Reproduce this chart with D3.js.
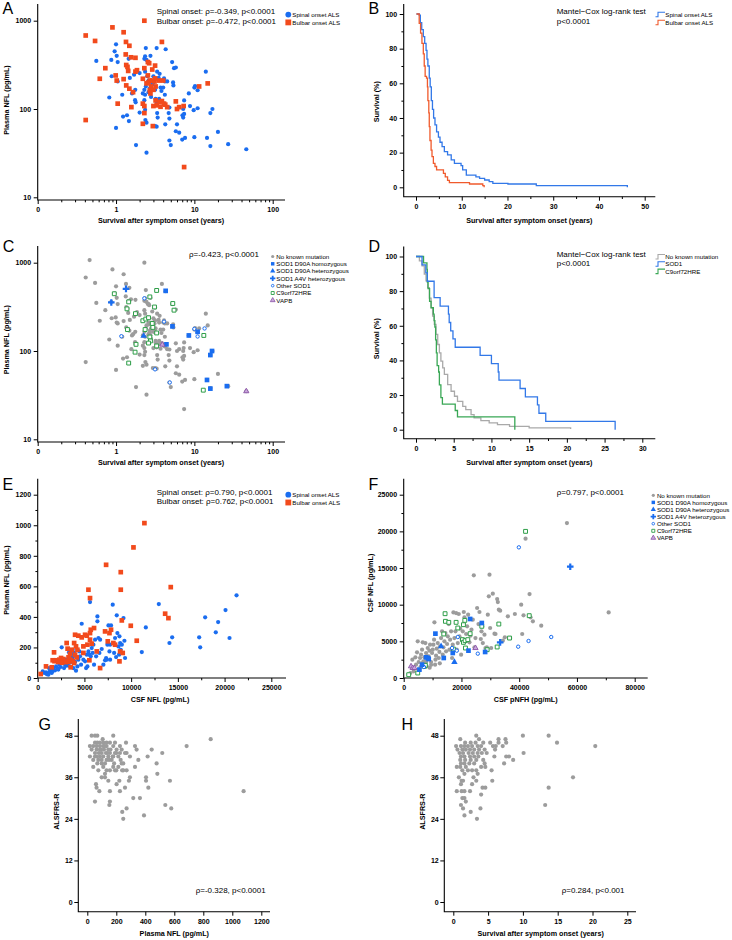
<!DOCTYPE html>
<html><head><meta charset="utf-8">
<script src="https://cdn.jsdelivr.net/npm/d3@7"></script>
<style>body{margin:0;background:#fff}</style>
</head><body>
<script>
// ---------------- DATA ----------------
// Panel A/C: [survival after onset (years), plasma NFL (pg/mL)]
const spinalA = [[0.56,350],[0.87,360],[0.88,235],[0.82,135],[0.96,450],[1.0,540],[1.02,400],[1.05,340],[1.05,205],[1.0,61],[1.2,145],[1.23,82],[1.38,85],[1.46,73],[1.45,370],[1.5,225],[1.7,245],[1.76,165],[1.75,126],[1.78,119],[1.8,39],[2.0,255],[2.0,91],[2.3,370],[2.35,395],[2.35,265],[2.4,490],[2.45,360],[2.4,180],[2.3,165],[2.35,145],[2.3,126],[2.35,98],[2.37,75],[2.45,70],[2.45,32],[2.6,340],[2.75,400],[2.6,210],[2.7,170],[2.8,137],[2.9,190],[3.0,235],[3.15,165],[3.2,130],[3.3,120],[3.35,90],[3.3,490],[3.35,265],[3.5,225],[3.6,250],[3.7,175],[3.55,130],[3.3,63],[3.15,64],[3.4,80],[4.0,175],[4.1,222],[4.2,145],[4.3,475],[4.2,205],[4.1,115],[4.25,67],[4.5,205],[4.7,90],[4.8,78],[4.8,44],[5.0,39],[5.2,340],[5.35,200],[5.5,290],[5.8,295],[5.4,185],[5.8,56],[6.4,54],[6.0,67],[7.0,45],[7.05,85],[7.4,125],[7.2,100],[7.4,88],[7.2,80],[7.6,47],[8.5,150],[8.8,108],[10,48],[10,175],[10.2,182],[9.8,97],[11,163],[11,102],[14.5,47],[14,265],[16,38],[16,90],[17,100],[20,55],[27,40],[46,35],[4.8,104],[2.5,235],[2.2,150],[2.6,155],[3.0,200],[3.8,160],[1.6,150]];
const bulbarA = [[0.41,680],[0.41,75],[0.54,590],[0.62,220],[0.73,290],[0.9,840],[0.99,240],[1.02,210],[1.05,115],[1.25,740],[1.34,575],[1.33,415],[1.35,315],[1.4,300],[1.43,270],[1.25,218],[1.35,185],[1.48,520],[1.48,170],[1.55,385],[1.65,155],[1.57,105],[1.77,380],[1.77,265],[1.85,275],[2.2,220],[2.2,115],[2.3,108],[2.3,90],[2.2,68],[2.3,290],[2.45,195],[2.55,340],[2.65,330],[2.6,200],[2.55,240],[2.7,162],[2.7,210],[2.75,150],[2.8,180],[2.9,280],[2.9,210],[2.95,64],[3.0,108],[3.0,165],[3.1,205],[3.15,310],[3.15,222],[3.2,180],[3.2,125],[3.3,110],[3.55,210],[3.6,120],[3.7,106],[3.85,575],[4.0,210],[3.85,123],[4.1,115],[4.25,112],[4.5,105],[5.8,122],[6.0,100],[6.4,105],[7.3,108],[7.4,22],[11.5,180],[14.8,195],[2.3,1000]];
// Panel C: extra non-carrier point and mutation carriers: [survival, plasma NFL]
const extraC = [[0.46,1070]];
const sod1HomC = [[4.3,480],[5.25,190],[8.5,150],[11,165],[16.8,100],[16,90],[14.5,47],[16,37.5],[26,40],[4.4,119]];
const sod1HetC = [[2.25,148]];
const a4vC = [[1.34,505],[0.87,355]];
const otherSod1C = [[2.3,395],[1.17,147],[4.1,215],[10,178],[13.5,180],[11,146],[3.15,62],[4.85,44]];
const c9C = [[0.95,445],[1.45,360],[1.38,300],[1.77,265],[2.7,410],[3.3,485],[3.1,315],[2.2,220],[2.4,230],[2.6,238],[2.9,205],[2.95,185],[3.3,160],[2.7,144],[2.75,130],[2.6,123],[3.3,114],[5.3,345],[5.5,290],[13.2,150],[13,36],[1.4,175],[1.8,119],[1.75,97],[1.45,73],[2.35,175]];
const vapbC = [[3.9,118],[46,35]];

// Panel B Kaplan–Meier: time (years), survival (%)
const kmSpinalT = [0.1,0.7,0.95,1.25,1.6,1.9,2.2,2.4,2.6,2.9,3.1,3.35,3.6,3.85,4.15,4.5,4.9,5.25,5.7,6.2,6.9,7.7,8.4,9.85,10.2,11,13.1,13.9,15,16,16.8,20.1,26.3,46.2];
const kmSpinalS = [100,99.4,95,91,87,83,79,74,70,63,58,50,45,40,36,32,29,26,23.5,20.6,18.7,15.8,13.8,12.5,10,7,6,5.2,4.2,3.3,2.3,1.9,1,0];
const kmBulbarT = [0.1,0.7,1.0,1.3,1.6,1.8,2.0,2.3,2.5,2.6,2.8,2.9,3.05,3.3,3.5,3.8,4.15,4.5,6.0,6.4,6.9,7.3,11.7,14.6,14.9];
const kmBulbarS = [100,94.6,89,83,77,70,64,63,58,50,43,35,27,21.5,17.7,13.8,12,10,8,6,4,2.7,1.9,1,0];
// Panel D Kaplan–Meier
const kmNoMutT = [0,0.45,0.8,1.1,1.33,1.55,1.77,2.0,2.2,2.43,2.65,2.88,3.1,3.3,3.54,3.76,4.2,4.65,5.1,5.5,6.2,6.6,7.3,7.7,8.6,9.7,10.8,12.4,15,20.5];
const kmNoMutS = [100,97.5,94.6,89.8,86,82,76,70.5,65.6,60.8,55,49.2,44.4,39.6,35.7,31.9,26,22.2,19.3,16.4,13.5,11.6,8.7,6.8,5.2,3.9,2.9,1.9,1,0.4];
const kmSod1T = [0,0.8,1.3,1.5,2.4,3.2,4.3,4.4,4.6,4.9,5.2,8.5,10.0,10.9,11.0,13.8,14.5,16.1,16.3,17.2,26.4];
const kmSod1S = [100,95.2,90.5,85.7,76.2,71.4,66.7,61.9,57.1,52.4,47.6,42.9,38.1,33.3,28.6,23.8,19.0,14.3,9.5,4.8,0];
const kmC9T = [0,1.0,1.45,1.5,1.6,1.8,2.0,2.3,2.4,2.5,2.6,2.7,2.8,3.0,3.1,3.3,3.5,5.2,5.5,13.1];
const kmC9S = [100,96.3,92.6,85.2,81.5,74.1,70.4,66.7,63.0,59.3,51.9,44.4,37.0,33.3,25.9,18.5,14.8,11.1,7.4,0];

// Panel E: [CSF NFL, plasma NFL]
const spinalE = [[540,44],[710,33],[890,37],[960,26],[1140,22],[1250,39],[1320,55],[1210,65],[1500,33],[1600,44],[1680,61],[1860,50],[1960,76],[2100,65],[2210,55],[2320,87],[2460,72],[2570,201],[2680,98],[2820,65],[2930,87],[3030,120],[3100,81],[3280,98],[3350,168],[3460,76],[3570,153],[3640,105],[3750,135],[3750,185],[3820,65],[3890,164],[4000,105],[4100,48],[4250,76],[4350,120],[4460,174],[4530,142],[4640,87],[4710,355],[4820,164],[4890,120],[5070,109],[5180,65],[5250,153],[5320,76],[5430,174],[5530,153],[5600,497],[5680,142],[5780,196],[5890,164],[5960,218],[6030,87],[6140,251],[6250,142],[6390,403],[6390,371],[6500,262],[6600,164],[6680,251],[6850,190],[7030,87],[7210,116],[7320,131],[7390,120],[7460,218],[7570,344],[7680,174],[7750,218],[7750,120],[7850,344],[8030,480],[8280,262],[8390,137],[8460,410],[8530,294],[8640,207],[8750,273],[8820,229],[8890,185],[9000,218],[9180,392],[9280,244],[9350,131],[8710,153],[8180,164],[11140,170],[11570,331],[12960,484],[14100,229],[14390,266],[17280,266],[17390,201],[17920,397],[19060,299],[19310,366],[20100,445],[20530,262],[21280,541]];
const bulbarE = [[320,26],[890,76],[1500,70],[1750,168],[1600,116],[2030,116],[2320,120],[2500,131],[2680,113],[2750,124],[2930,109],[3100,229],[3200,192],[3300,135],[3460,157],[3640,185],[3460,120],[3750,109],[3900,229],[4000,283],[4100,207],[4250,185],[4180,135],[4350,277],[3530,70],[3570,118],[4000,153],[4710,266],[4890,207],[4890,164],[5070,283],[5250,277],[5320,218],[5430,578],[5600,523],[5600,294],[5680,316],[5600,251],[5530,116],[5780,225],[6030,327],[6320,174],[6680,65],[7210,305],[7320,741],[7500,240],[7680,294],[7850,316],[8100,229],[8280,218],[8750,109],[8820,174],[8890,693],[8890,578],[9000,377],[9100,164],[9960,342],[10250,855],[10600,244],[11420,1014],[13640,421],[13990,392],[14240,595],[1800,110],[2200,105],[2600,100],[3000,104],[3300,106],[3900,98]];

// Panel F: [CSF pNFH, CSF NFL]
const noMutF = [[1730,455],[2310,680],[3120,1360],[3470,910],[4050,2820],[4280,1820],[4620,3500],[4860,5000],[5200,2180],[5430,1140],[5660,2730],[6010,3180],[6360,3860],[6590,4860],[6820,2270],[7170,2820],[7510,4770],[7750,3410],[7980,1590],[8320,4090],[8670,2950],[8900,3730],[9130,4550],[9480,2180],[9830,3410],[10060,3860],[10290,4550],[10520,5230],[10640,7590],[10870,1820],[11210,3050],[11440,4000],[11790,4770],[12140,2730],[12370,3550],[12600,4320],[12950,5450],[13290,6360],[13520,3180],[13760,4180],[14100,5000],[14450,6140],[14680,3640],[15030,4640],[15260,5680],[15610,7360],[15840,3860],[16070,5230],[16420,6360],[16760,2730],[16990,4550],[17220,8950],[17570,5450],[17920,6360],[18150,8860],[18380,3860],[18730,4770],[19070,8730],[19300,5680],[19540,6730],[19880,3180],[20110,5230],[20460,6360],[20810,9000],[21040,8270],[21390,5090],[21620,6000],[21960,7050],[22310,8640],[22770,4860],[23120,5770],[23470,6590],[23930,7950],[24280,14000],[24510,4180],[24850,5450],[25430,9550],[25900,7360],[26240,9000],[26700,5320],[26940,6360],[27170,7050],[27400,4770],[27970,5910],[28320,4090],[28780,4180],[29130,8640],[29480,11140],[29710,14090],[29940,6820],[30290,4090],[30860,11500],[31440,6050],[31790,6000],[32370,10770],[32600,10360],[32940,9320],[33410,9180],[34330,5090],[35030,5550],[36070,8410],[36880,5450],[38500,8730],[40690,10000],[41040,6000],[41500,8550],[42200,19000],[43580,11450],[43930,8270],[44740,7730],[47630,7140],[56530,21130],[70980,8950],[3000,2500],[5800,1500],[6500,2000],[7800,2200],[9000,1400],[9500,1800],[11000,2500],[12500,2000],[8000,3000]];
const sod1HomF = [[10980,6050],[13870,2730],[8320,2730],[7750,2820],[8670,2590],[6360,1820],[5430,1140],[16990,3410],[22430,3730],[23000,8050],[27050,7500],[28200,3550]];
const sod1HetF = [[12950,4320],[17570,2180]];
const a4vF = [[33410,4860],[57680,15180]];
const otherSod1F = [[39880,17820],[18730,5590],[18380,3730],[16760,4090],[25660,3320],[39650,4270],[43240,5050],[51090,5590],[7000,1500]];
const c9F = [[42200,20000],[14330,8770],[14450,7730],[15610,7590],[18150,7590],[18730,6820],[13870,6000],[20690,7270],[21160,7860],[20350,5230],[20690,4860],[21270,5090],[22200,5230],[23000,6050],[21390,4090],[17220,3950],[27050,7050],[28900,3860],[32940,7360],[32370,4230],[36650,5450],[43470,8500],[4860,680],[1730,450],[7170,1590],[7510,1730]];
const vapbF = [[2540,1590],[3120,1360],[3700,1360],[24850,4090]];

// Panel G: [plasma NFL, ALSFRS-R]
const dataG = [[30,48],[53,48],[69,48],[179,48],[106,47],[851,47],[53,46],[69,46],[87,46],[110,46],[133,46],[156,46],[191,46],[267,46],[18,45],[41,45],[64,45],[87,45],[110,45],[133,45],[179,45],[225,45],[329,45],[685,45],[30,44],[64,44],[87,44],[115,44],[145,44],[202,44],[237,44],[340,44],[444,44],[53,43],[80,43],[99,43],[129,43],[156,43],[191,43],[225,43],[271,43],[517,43],[18,42],[53,42],[87,42],[110,42],[145,42],[179,42],[214,42],[294,42],[416,42],[41,41],[76,41],[99,41],[133,41],[168,41],[352,41],[69,40],[99,40],[122,40],[237,40],[248,40],[478,40],[41,39],[110,39],[179,39],[214,39],[329,39],[76,38],[133,38],[156,38],[191,38],[248,38],[271,38],[122,37],[483,37],[99,36],[122,36],[294,36],[405,36],[145,35],[221,35],[287,35],[405,35],[570,35],[60,34],[202,34],[64,33],[260,33],[421,33],[83,32],[156,32],[225,32],[1078,32],[317,30],[363,30],[53,29],[156,29],[152,28],[538,28],[271,27],[579,27],[241,26],[391,25],[248,24],[120,45],[140,43],[160,44],[175,42],[200,43],[95,44],[65,42],[150,41],[185,40],[230,41],[260,43],[200,38],[240,38]];
// Panel H: [survival after onset, ALSFRS-R]
const dataH = [[3.3,48],[10.0,48],[13.7,48],[1.0,47],[3.7,47],[6.5,47],[7.5,47],[1.7,46],[2.5,46],[3.2,46],[4.3,46],[5.3,46],[6.5,46],[7.6,46],[14.9,46],[0.4,45],[1.1,45],[1.6,45],[2.1,45],[2.7,45],[3.5,45],[4.0,45],[5.7,45],[6.1,45],[7.1,45],[20.4,45],[0.6,44],[1.3,44],[1.8,44],[2.4,44],[3.0,44],[3.7,44],[4.5,44],[6.0,44],[0.9,43],[1.4,43],[2.2,43],[2.8,43],[3.5,43],[4.1,43],[4.8,43],[10.1,43],[1.1,42],[1.6,42],[2.4,42],[3.0,42],[3.6,42],[5.9,42],[7.6,42],[8.0,42],[1.0,41],[1.7,41],[2.5,41],[3.3,41],[4.3,41],[8.6,41],[1.1,40],[1.6,40],[2.3,40],[3.0,40],[4.5,40],[7.3,40],[0.5,39],[1.0,39],[1.8,39],[4.0,39],[4.6,39],[1.3,38],[2.1,38],[2.7,38],[3.3,38],[5.5,38],[1.6,37],[3.5,37],[0.8,36],[2.9,36],[17.2,36],[1.2,35],[1.4,35],[3.3,35],[5.6,35],[1.1,34],[2.7,34],[4.2,33],[4.6,33],[13.7,33],[0.5,32],[1.2,32],[1.6,32],[2.4,32],[4.0,31],[1.3,30],[1.6,30],[1.8,29],[1.1,28],[13.2,28],[1.4,27],[3.9,27],[2.5,26],[1.6,25],[3.4,24]];

// Tick labels
const logTicks = [0.1,1,10,100];
const logMinor = [0.2,0.3,0.4,0.5,0.6,0.7,0.8,0.9,2,3,4,5,6,7,8,9,20,30,40,50,60,70,80,90];
const nflLogTicks = [10,100,1000];
const survTicks = [0,20,40,60,80,100];
const survMinor = [10,30,50,70,90];
const mutationLabels = ["No known mutation","SOD1 D90A homozygous","SOD1 D90A heterozygous","SOD1 A4V heterozygous","Other SOD1","C9orf72HRE","VAPB"];

// ---------------- STYLE ----------------
const FONT = "'Liberation Sans', Arial, Helvetica, sans-serif";
const BLUE = "#1a6df0", RED = "#f24a1c", GRAY = "#9c9c9c", GREEN = "#2e9e48", PURPLE = "#8a55a6";
const KBLUE = "#3278e8", KRED = "#f05a2c", KGRAY = "#a9a9a9", KGREEN = "#39a755";

const svg = d3.select("body").append("svg").attr("width",732).attr("height",940)
  .style("font-family",FONT);

function axes(c){
  const g = svg.append("g");
  g.append("path").attr("d",`M${c.ax},${c.top}V${c.ay}H${c.right}`)
    .attr("fill","none").attr("stroke","#000").attr("stroke-width",1.1);
  const fmtX = c.xFmt || d3.format("d"), fmtY = c.yFmt || d3.format("d");
  const xa = g.append("g").attr("transform",`translate(0,${c.ay})`)
    .call(d3.axisBottom(c.x).tickValues(c.xTicks).tickFormat(fmtX).tickSize(4).tickPadding(3.5));
  const ya = g.append("g").attr("transform",`translate(${c.ax},0)`)
    .call(d3.axisLeft(c.y).tickValues(c.yTicks).tickFormat(fmtY).tickSize(4).tickPadding(c.yPad||2.6));
  [xa,ya].forEach(a=>{
    a.select(".domain").remove();
    a.attr("font-family",FONT).attr("font-size",7).attr("font-weight","bold");
    a.selectAll(".tick line").attr("stroke","#000").attr("stroke-width",1);
    a.selectAll("text").attr("fill","#000");
  });
  if(c.xMinor){
    const m = g.append("g").attr("transform",`translate(0,${c.ay})`)
      .call(d3.axisBottom(c.x).tickValues(c.xMinor).tickFormat("").tickSize(2.3));
    m.select(".domain").remove(); m.selectAll(".tick line").attr("stroke","#000");
  }
  if(c.yMinor){
    const m = g.append("g").attr("transform",`translate(${c.ax},0)`)
      .call(d3.axisLeft(c.y).tickValues(c.yMinor).tickFormat("").tickSize(2.3));
    m.select(".domain").remove(); m.selectAll(".tick line").attr("stroke","#000");
  }
  g.append("text").attr("x",c.xtX).attr("y",c.xtY).attr("text-anchor","middle")
    .attr("font-size",7.2).attr("font-weight","bold").text(c.xTitle);
  g.append("text").attr("transform",`translate(${c.ytX},${c.ytY}) rotate(-90)`).attr("text-anchor","middle")
    .attr("font-size",7.2).attr("font-weight","bold").text(c.yTitle);
  g.append("text").attr("x",c.lx).attr("y",c.ly).attr("font-size",16).text(c.letter);
  return g;
}

function sym(type,size){ return d3.symbol().type(type).size(size)(); }

function plotPoints(g, data, x, y, kind, color){
  const sel = g.append("g").selectAll("g").data(data).join("g")
    .attr("transform",d=>`translate(${x(d[0])},${y(d[1])})`);
  drawMarker(sel, kind, color);
}
function drawMarker(sel, kind, color){
  if(kind==="circle") sel.append("circle").attr("r",2.1).attr("fill",color);
  else if(kind==="square") sel.append("path").attr("d",sym(d3.symbolSquare,22)).attr("fill",color);
  else if(kind==="tri") sel.append("path").attr("d",sym(d3.symbolTriangle,18)).attr("fill",color);
  else if(kind==="cross") sel.append("path").attr("d",sym(d3.symbolCross,24)).attr("fill",color);
  else if(kind==="ocircle") sel.append("circle").attr("r",1.7).attr("fill","#fff").attr("stroke",color).attr("stroke-width",1);
  else if(kind==="osquare") sel.append("path").attr("d",sym(d3.symbolSquare,15)).attr("fill","#fff").attr("stroke",color).attr("stroke-width",1);
  else if(kind==="otri") sel.append("path").attr("d",sym(d3.symbolTriangle,12)).attr("fill","#c9a6dc").attr("stroke",color).attr("stroke-width",0.9);
}

function annot(g, x, y0, lines, size, dy){
  lines.forEach((t,i)=>g.append("text").attr("x",x).attr("y",y0+i*dy).attr("font-size",size).text(t));
}

function legendOnset(g, x, y){
  const a = g.append("g");
  a.append("circle").attr("cx",x).attr("cy",y).attr("r",2.9).attr("fill",BLUE);
  a.append("text").attr("x",x+4).attr("y",y+2.2).attr("font-size",6.2).text("Spinal onset ALS");
  a.append("path").attr("transform",`translate(${x},${y+7.8})`).attr("d",sym(d3.symbolSquare,34)).attr("fill",RED);
  a.append("text").attr("x",x+4).attr("y",y+10).attr("font-size",6.2).text("Bulbar onset ALS");
}

const mutKinds = [["circle",GRAY],["square",BLUE],["tri",BLUE],["cross",BLUE],["ocircle",BLUE],["osquare",GREEN],["otri",PURPLE]];
function legendMut(g, x, y, dy){
  mutationLabels.forEach((lab,i)=>{
    const s = g.append("g").attr("transform",`translate(${x},${y+i*dy})`);
    const k = mutKinds[i];
    if(k[0]==="circle") s.append("circle").attr("r",1.6).attr("fill",k[1]);
    else if(k[0]==="square") s.append("path").attr("d",sym(d3.symbolSquare,12)).attr("fill",k[1]);
    else if(k[0]==="tri") s.append("path").attr("d",sym(d3.symbolTriangle,12)).attr("fill",k[1]);
    else if(k[0]==="cross") s.append("path").attr("d",sym(d3.symbolCross,16)).attr("fill",k[1]);
    else if(k[0]==="ocircle") s.append("circle").attr("r",1.3).attr("fill","#fff").attr("stroke",k[1]).attr("stroke-width",0.9);
    else if(k[0]==="osquare") s.append("path").attr("d",sym(d3.symbolSquare,9)).attr("fill","#fff").attr("stroke",k[1]).attr("stroke-width",0.9);
    else s.append("path").attr("d",sym(d3.symbolTriangle,10)).attr("fill","#c9a6dc").attr("stroke",k[1]).attr("stroke-width",0.8);
    g.append("text").attr("x",x+3.6).attr("y",y+i*dy+2.2).attr("font-size",6.2).text(lab);
  });
}

function kmLegend(g, x, y, items, dy){
  items.forEach((it,i)=>{
    const yy = y+i*dy;
    g.append("path").attr("d",`M${x},${yy+1.5}h2.5V${yy-3}H${x+9.5}`).attr("fill","none").attr("stroke",it[1]).attr("stroke-width",1.1);
    g.append("text").attr("x",x+9.8).attr("y",yy+1.5).attr("font-size",6.2).text(it[0]);
  });
}

function kmLine(g, T, S, x, y, color){
  const pts = T.map((t,i)=>[t,S[i]]);
  g.append("path").datum(pts)
    .attr("d",d3.line().x(d=>x(d[0])).y(d=>y(d[1])).curve(d3.curveStepAfter))
    .attr("fill","none").attr("stroke",color).attr("stroke-width",1.3);
}
const logFmt = v => v===0.1 ? "0" : d3.format("d")(v);

// ---------------- PANEL A ----------------
{
  const x = d3.scaleLog().domain([0.1,100]).range([37.7,272.7]);
  const y = d3.scaleLog().domain([10,1000]).range([197.3,20.7]);
  const g = axes({x,y,ax:37.7,top:4,ay:200,right:285,xTicks:logTicks,xMinor:logMinor,xFmt:logFmt,yTicks:nflLogTicks,
    xTitle:"Survival after symptom onset (years)",xtX:161,xtY:222.7,yTitle:"Plasma NFL (pg/mL)",ytX:8.5,ytY:100,letter:"A",lx:2.5,ly:14});
  plotPoints(g, spinalA, x, y, "circle", BLUE);
  plotPoints(g, bulbarA, x, y, "square", RED);
  annot(g, 156.7, 14.3, ["Spinal onset: ρ=-0.349, p<0.0001","Bulbar onset: ρ=-0.472, p<0.0001"], 8, 9.2);
  legendOnset(g, 288.3, 14.6);
}
// ---------------- PANEL B ----------------
{
  const x = d3.scaleLinear().domain([0,50]).range([416,644.7]);
  const y = d3.scaleLinear().domain([0,100]).range([187.3,14]);
  const g = axes({x,y,ax:403.7,top:4,ay:196.7,right:655.3,xTicks:[0,10,20,30,40,50],xMinor:[5,15,25,35,45],yTicks:survTicks,yMinor:survMinor,
    xTitle:"Survival after symptom onset (years)",xtX:529.3,xtY:222.7,yTitle:"Survival (%)",ytX:378.5,ytY:101.7,letter:"B",lx:368.5,ly:14});
  kmLine(g, kmSpinalT, kmSpinalS, x, y, KBLUE);
  kmLine(g, kmBulbarT, kmBulbarS, x, y, KRED);
  annot(g, 556.7, 14.3, ["Mantel−Cox log-rank test","p<0.0001"], 8, 9.2);
  kmLegend(g, 655.5, 15.2, [["Spinal onset ALS",KBLUE],["Bulbar onset ALS",KRED]], 8);
}
// ---------------- PANEL C ----------------
{
  const x = d3.scaleLog().domain([0.1,100]).range([37.7,272.7]);
  const y = d3.scaleLog().domain([10,1000]).range([439.3,262.7]);
  const g = axes({x,y,ax:37.7,top:246,ay:442,right:285,xTicks:logTicks,xMinor:logMinor,xFmt:logFmt,yTicks:nflLogTicks,
    xTitle:"Survival after symptom onset (years)",xtX:161,xtY:464.7,yTitle:"Plasma NFL (pg/mL)",ytX:8.5,ytY:339.7,letter:"C",lx:2.8,ly:251.5});
  plotPoints(g, spinalA.concat(bulbarA, extraC), x, y, "circle", GRAY);
  plotPoints(g, c9C, x, y, "osquare", GREEN);
  plotPoints(g, otherSod1C, x, y, "ocircle", BLUE);
  plotPoints(g, sod1HomC, x, y, "square", BLUE);
  plotPoints(g, sod1HetC, x, y, "tri", BLUE);
  plotPoints(g, a4vC, x, y, "cross", BLUE);
  plotPoints(g, vapbC, x, y, "otri", PURPLE);
  annot(g, 189, 256.5, ["ρ=-0.423, p<0.0001"], 8, 9);
  legendMut(g, 272.7, 256.5, 7.3);
}
// ---------------- PANEL D ----------------
{
  const x = d3.scaleLinear().domain([0,30]).range([416,642.3]);
  const y = d3.scaleLinear().domain([0,100]).range([429.7,256.5]);
  const g = axes({x,y,ax:403.7,top:246.5,ay:438.7,right:655.3,xTicks:[0,5,10,15,20,25,30],xMinor:[2.5,7.5,12.5,17.5,22.5,27.5],yTicks:survTicks,yMinor:survMinor,
    xTitle:"Survival after symptom onset (years)",xtX:529.3,xtY:464.7,yTitle:"Survival (%)",ytX:378.5,ytY:338.7,letter:"D",lx:368.5,ly:251.5});
  kmLine(g, kmNoMutT, kmNoMutS, x, y, KGRAY);
  kmLine(g, kmC9T, kmC9S, x, y, KGREEN);
  kmLine(g, kmSod1T, kmSod1S, x, y, KBLUE);
  annot(g, 556.7, 256.5, ["Mantel−Cox log-rank test","p<0.0001"], 8, 9.2);
  kmLegend(g, 655.5, 257.5, [["No known mutation",KGRAY],["SOD1",KBLUE],["C9orf72HRE",KGREEN]], 7.3);
}
// ---------------- PANEL E ----------------
{
  const x = d3.scaleLinear().domain([0,25000]).range([37.7,271.3]);
  const y = d3.scaleLinear().domain([0,1200]).range([678,494.7]);
  const g = axes({x,y,ax:37.7,top:478.7,ay:678,right:286,xTicks:[0,5000,10000,15000,20000,25000],xMinor:[2500,7500,12500,17500,22500],
    yTicks:[0,200,400,600,800,1000,1200],yMinor:[100,300,500,700,900,1100],
    xTitle:"CSF NFL (pg/mL)",xtX:160,xtY:702.3,yTitle:"Plasma NFL (pg/mL)",ytX:8.5,ytY:580,letter:"E",lx:2.5,ly:489.7});
  plotPoints(g, spinalE, x, y, "circle", BLUE);
  plotPoints(g, bulbarE, x, y, "square", RED);
  annot(g, 156.7, 494.9, ["Spinal onset: ρ=0.790, p<0.0001","Bulbar onset: ρ=0.762, p<0.0001"], 8, 9.2);
  legendOnset(g, 288.3, 494.7);
}
// ---------------- PANEL F ----------------
{
  const x = d3.scaleLinear().domain([0,80000]).range([403.7,634.7]);
  const y = d3.scaleLinear().domain([0,25000]).range([678,494.7]);
  const g = axes({x,y,ax:403.7,top:478.7,ay:678,right:647.7,xTicks:[0,20000,40000,60000,80000],xMinor:[10000,30000,50000,70000],
    yTicks:[0,5000,10000,15000,20000,25000],yMinor:[2500,7500,12500,17500,22500],
    xTitle:"CSF pNFH (pg/mL)",xtX:525.7,xtY:702.3,yTitle:"CSF NFL (pg/mL)",ytX:373,ytY:583,letter:"F",lx:368.5,ly:489.7});
  plotPoints(g, noMutF, x, y, "circle", GRAY);
  plotPoints(g, c9F, x, y, "osquare", GREEN);
  plotPoints(g, otherSod1F, x, y, "ocircle", BLUE);
  plotPoints(g, sod1HomF, x, y, "square", BLUE);
  plotPoints(g, sod1HetF, x, y, "tri", BLUE);
  plotPoints(g, a4vF, x, y, "cross", BLUE);
  plotPoints(g, vapbF, x, y, "otri", PURPLE);
  annot(g, 556.7, 494.7, ["ρ=0.797, p<0.0001"], 8, 9);
  legendMut(g, 653.3, 495.3, 7.1);
}
// ---------------- PANEL G ----------------
{
  const x = d3.scaleLinear().domain([0,1200]).range([87.3,261.3]);
  const y = d3.scaleLinear().domain([0,48]).range([902,735.7]);
  const g = axes({x,y,ax:78.3,top:719,ay:911.7,right:270,xTicks:[0,200,400,600,800,1000,1200],yTicks:[0,12,24,36,48],yPad:1.6,
    xTitle:"Plasma NFL (pg/mL)",xtX:174.3,xtY:935.7,yTitle:"ALSFRS-R",ytX:59.2,ytY:811.7,letter:"G",lx:38.5,ly:730});
  plotPoints(g, dataG, x, y, "circle", GRAY);
  annot(g, 195.7, 893.3, ["ρ=-0.328, p<0.0001"], 8, 9);
}
// ---------------- PANEL H ----------------
{
  const x = d3.scaleLinear().domain([0,25]).range([453.3,627.3]);
  const y = d3.scaleLinear().domain([0,48]).range([902,735.7]);
  const g = axes({x,y,ax:444.3,top:719,ay:911.7,right:636,xTicks:[0,5,10,15,20,25],yTicks:[0,12,24,36,48],yPad:1.6,
    xTitle:"Survival after symptom onset (years)",xtX:540.7,xtY:935.7,yTitle:"ALSFRS-R",ytX:425.2,ytY:811.7,letter:"H",lx:401.5,ly:730});
  plotPoints(g, dataH, x, y, "circle", GRAY);
  annot(g, 561.7, 893.3, ["ρ=0.284, p<0.001"], 8, 9);
}
</script>
</body></html>
